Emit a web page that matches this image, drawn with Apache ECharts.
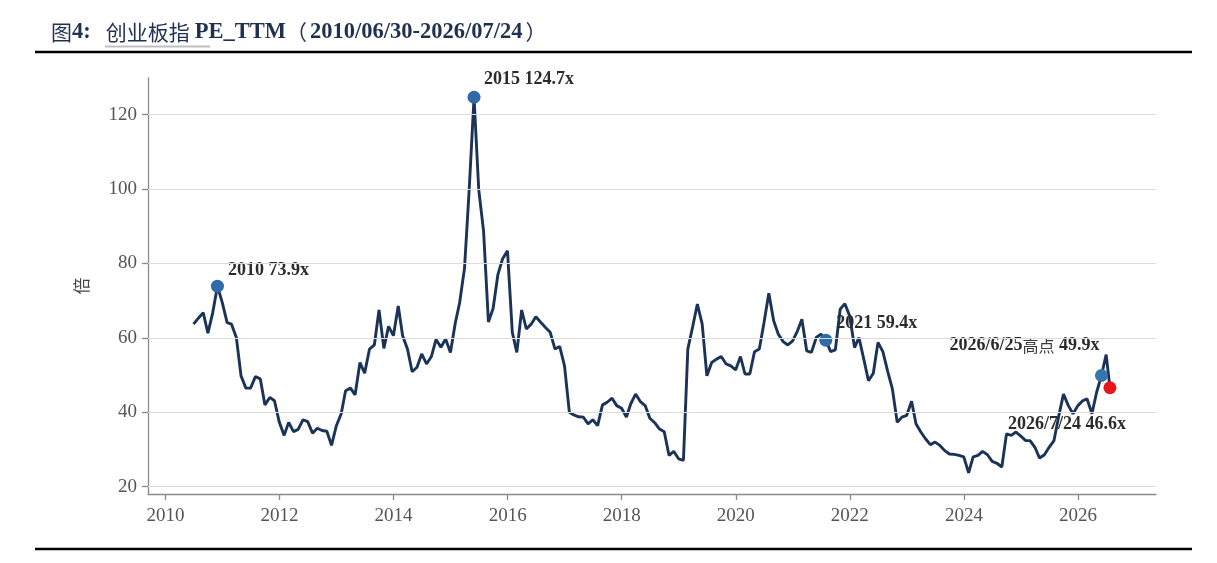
<!DOCTYPE html>
<html>
<head>
<meta charset="utf-8">
<script src="https://cdn.jsdelivr.net/npm/echarts@6/dist/echarts.min.js"></script>
<style>html,body{margin:0;padding:0;background:#fff;}#c{width:1217px;height:563px;}</style>
</head>
<body>
<div id="c"></div>
<script>
// ---- data (month-end PE_TTM of ChiNext index) ----
const startMonth = [2010, 6];           // first month-end: 2010-06-30
const lastDate = '2026-07-24';          // final observation
const values = [
  63.7, 65.3, 66.8, 61.3, 66.8, 73.9, 69.5,
  64.1, 63.7, 60.1, 49.8, 46.5, 46.5, 49.6, 49.0, 42.0, 44.0, 43.1, 37.3,
  33.8, 37.3, 34.8, 35.4, 38.0, 37.5, 34.4, 35.7, 35.1, 34.9, 31.1, 36.4,
  39.6, 45.8, 46.5, 44.7, 53.4, 50.5, 57.0, 58.1, 67.5, 57.2, 63.1, 60.6,
  68.6, 60.6, 57.0, 50.9, 52.1, 55.7, 53.0, 55.0, 59.6, 57.5, 59.7, 56.1,
  64.0, 69.5, 78.7, 99.9, 124.7, 99.9, 88.7, 64.3, 67.9, 77.1, 81.3, 83.4,
  61.5, 56.1, 67.5, 62.4, 63.7, 65.7, 64.2, 62.8, 61.5, 57.0, 57.7, 52.5,
  40.0, 39.3, 38.8, 38.7, 36.9, 38.0, 36.4, 42.0, 42.7, 43.8, 41.8, 41.1,
  38.7, 42.3, 44.9, 42.9, 41.8, 38.4, 37.2, 35.5, 34.8, 28.4, 29.5, 27.5,
  27.1, 57.0, 63.0, 69.1, 63.7, 49.8, 53.4, 54.3, 55.0, 53.0, 52.5, 51.4,
  55.0, 50.3, 50.3, 56.3, 57.0, 64.1, 72.0, 64.6, 61.0, 59.0, 58.1, 59.2,
  61.9, 65.0, 56.5, 56.1, 60.1, 61.0, 59.4, 56.3, 56.8, 67.7, 69.2, 65.9,
  57.4, 60.1, 54.3, 48.5, 50.5, 58.8, 56.3, 51.0, 46.3, 37.3, 38.7, 39.2,
  43.0, 36.9, 34.7, 32.9, 31.3, 32.0, 31.1, 29.7, 28.8, 28.7, 28.4, 28.0,
  23.7, 28.0, 28.4, 29.5, 28.6, 26.8, 26.3, 25.3, 34.2, 33.8, 34.7, 33.6,
  32.4, 32.4, 30.6, 27.7, 28.6, 30.6, 32.4, 39.1, 44.9, 41.8, 39.6, 41.8,
  43.1, 43.6, 39.6, 45.4, 49.9, 55.5,
  46.6
];
const highlightDates  = ['2010-11-30', '2015-05-31', '2021-07-31', '2026-05-31', '2026-07-24'];
const highlightValues = [73.9, 124.7, 59.4, 49.9, 46.6];
const highlightLabels = ['{b|2010 73.9x}', '{b|2015 124.7x}', '{b|2021 59.4x}', '{b|2026/6/25}{c|高点}{b| 49.9x}', '{b|2026/7/24 46.6x}'];
const xTicks = [2010, 2012, 2014, 2016, 2018, 2020, 2022, 2024, 2026];
const yTicks = [20, 40, 60, 80, 100, 120];

// ---- helpers ----
function pad(n){ return (n < 10 ? '0' : '') + n; }
function monthEnd(y, m){ const d = new Date(Date.UTC(y, m, 0)).getUTCDate(); return y + '-' + pad(m) + '-' + pad(d); }
function decYear(s){
  const p = s.split('-').map(Number);
  const a = Date.UTC(p[0], 0, 1), b = Date.UTC(p[0] + 1, 0, 1);
  return p[0] + (Date.UTC(p[0], p[1] - 1, p[2]) - a) / (b - a);
}
const dates = [];
for (let i = 0; i < values.length - 1; i++) {
  const mm = startMonth[1] - 1 + i;
  dates.push(monthEnd(startMonth[0] + Math.floor(mm / 12), (mm % 12) + 1));
}
dates.push(lastDate);
const lineData = dates.map((d, i) => [decYear(d), values[i]]);

const labelOffsets = [[51, -16], [55, -17.5], [51, -17], [-77, -30], [-43, 37]];
const markerColors = ['#2f6ba6', '#2f6ba6', '#2f6ba6', '#3674ae', '#e8161c'];
const scatterData = highlightDates.map((d, i) => ({
  value: [decYear(d), highlightValues[i]],
  itemStyle: { color: markerColors[i], opacity: 1 },
  label: { show: true, position: 'inside', offset: labelOffsets[i], formatter: highlightLabels[i] }
}));

const serif = '"Liberation Serif", "Times New Roman", serif';
const cjk = '"Noto Sans CJK SC", sans-serif';
const axisColor = '#8a8a8a';

const chart = echarts.init(document.getElementById('c'), null, { renderer: 'canvas' });
chart.setOption({
  backgroundColor: '#fff',
  animation: false,
  title: {
    left: 46, top: 16,
    text: '{a|图}{b|4:}   {a|创业板指} {b|PE_TTM}{p|（}{b|2010/06/30-2026/07/24}{q|）}',
    textStyle: {
      rich: {
        a: { fontFamily: cjk, fontSize: 21, color: '#1f3050', fontWeight: 'normal' },
        p: { fontFamily: cjk, fontSize: 21, color: '#1f3050', fontWeight: 'normal', padding: [0, 3, 0, 0] },
        q: { fontFamily: cjk, fontSize: 21, color: '#1f3050', fontWeight: 'normal', padding: [0, 0, 0, 3] },
        b: { fontFamily: serif, fontSize: 22.5, color: '#1f3050', fontWeight: 'bold' }
      }
    }
  },
  graphic: [
    { type: 'line', shape: { x1: 35, y1: 52, x2: 1192, y2: 52 }, style: { stroke: '#000', lineWidth: 2.5 } },
    { type: 'line', shape: { x1: 105, y1: 46.5, x2: 210, y2: 46.5 }, style: { stroke: '#c0c0c0', lineWidth: 2 } },
    { type: 'line', shape: { x1: 35, y1: 549, x2: 1192, y2: 549 }, style: { stroke: '#000', lineWidth: 2.5 } }
  ],
  grid: { left: 148, right: 61, top: 78, bottom: 69, containLabel: false },
  xAxis: {
    type: 'value',
    min: 2009.695, max: 2027.367,
    axisLine: { show: true, onZero: false, lineStyle: { color: axisColor, width: 1.3 } },
    axisTick: { show: true, length: 6, customValues: xTicks, lineStyle: { color: axisColor, width: 1.3 } },
    axisLabel: { customValues: xTicks, margin: 13, color: '#555', fontFamily: serif, fontSize: 19, formatter: v => String(Math.round(v)) },
    splitLine: { show: false }
  },
  yAxis: {
    type: 'value',
    min: 18.04, max: 129.87,
    name: '倍', nameLocation: 'middle', nameRotate: 90, nameGap: 58,
    nameTextStyle: { fontFamily: cjk, fontSize: 17, color: '#444' },
    axisLine: { show: true, onZero: false, lineStyle: { color: axisColor, width: 1.3 } },
    axisTick: { show: true, length: 6, customValues: yTicks, lineStyle: { color: axisColor, width: 1.3 } },
    axisLabel: { customValues: yTicks, margin: 11, color: '#555', fontFamily: serif, fontSize: 19 },
    splitLine: { show: false }
  },
  series: [
    {
      type: 'line', data: [], z: 1, silent: true,
      markLine: {
        silent: true, symbol: ['none', 'none'], animation: false,
        label: { show: false },
        lineStyle: { color: '#dcdcdc', type: 'solid', width: 1 },
        data: yTicks.map(v => ({ yAxis: v }))
      }
    },
    {
      type: 'line', data: lineData, z: 3, showSymbol: false, silent: true,
      lineStyle: { color: '#1b3356', width: 2.9 }
    },
    {
      type: 'scatter', data: scatterData, z: 4, symbolSize: 13, silent: true,
      label: {
        rich: {
          b: { fontFamily: serif, fontSize: 18, fontWeight: 'bold', color: '#2b2b2b' },
          c: { fontFamily: cjk, fontSize: 16, color: '#3a3a3a' }
        }
      }
    }
  ]
});
</script>
</body>
</html>
